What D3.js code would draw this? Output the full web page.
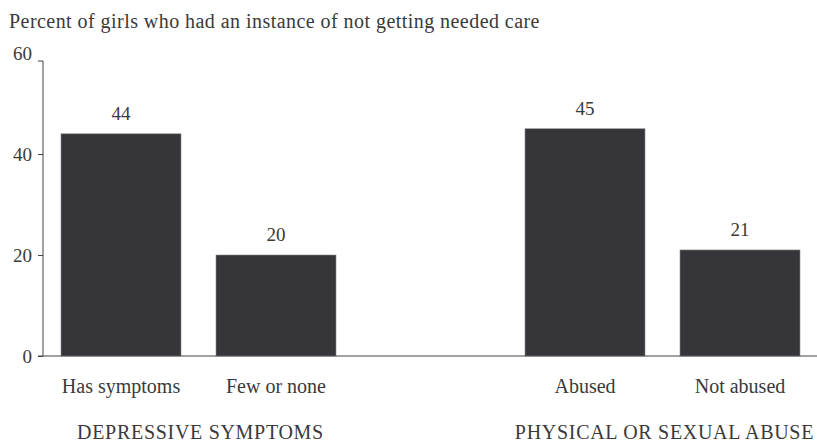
<!DOCTYPE html>
<html>
<head>
<meta charset="utf-8">
<script src="https://cdn.jsdelivr.net/npm/d3@7"></script>
<style>
  html, body { margin: 0; padding: 0; background: #fff; }
  svg { display: block; }
  svg text { font-family: "Liberation Serif", Tinos, "Times New Roman" !important; }
</style>
</head>
<body>
<svg id="chart" width="817" height="444"></svg>
<script>
const title = "Percent of girls who had an instance of not getting needed care";
const groups = ["DEPRESSIVE SYMPTOMS", "PHYSICAL OR SEXUAL ABUSE"];
const categories = [
  ["Has symptoms", "Few or none"],
  ["Abused", "Not abused"]
];
const values = [
  [44, 20],
  [45, 21]
];
const yTicks = [0, 20, 40, 60];

const FONT = '"Liberation Serif", Tinos, "Times New Roman"';
const TXT = "#3a3a3a";
const svg = d3.select("#chart");
const W = 817, H = 444;
const plot = { left: 43, right: 800, top: 53, bottom: 356 };

const y = d3.scaleLinear().domain([0, 60]).range([plot.bottom, plot.top]);
const xGroup = d3.scaleBand().domain(groups).range([61, plot.right]).paddingInner(0.4073).paddingOuter(0);
const xInner = d3.scaleBand().domain([0, 1]).range([0, xGroup.bandwidth()]).paddingInner(0.2258).paddingOuter(0);

function styleText(sel, size, ls) {
  return sel.attr("font-family", FONT)
    .style("font-family", FONT, "important")
    .attr("font-size", size).style("font-size", size + "px")
    .attr("fill", TXT)
    .attr("letter-spacing", ls || 0);
}

// title
styleText(svg.append("text").attr("x", 9).attr("y", 28), 20, 0.45).text(title);

// y axis
const axisTop = y(60) + 8; // the drawn axis line starts slightly below the "60" label
const yAxis = d3.axisLeft(y).tickValues(yTicks).tickSize(5).tickPadding(6).tickFormat(d3.format("d"));
const gy = svg.append("g").attr("transform", `translate(${plot.left},0)`).call(yAxis)
  .attr("font-family", FONT).attr("font-size", 19);
gy.select(".domain").attr("stroke", "#444").attr("d", `M-5,${axisTop}H0V${y(0)}`);
gy.selectAll(".tick line").attr("stroke", "#444").filter(d => d === 60).remove();
styleText(gy.selectAll(".tick text"), 19, 0).attr("dy", "0.35em");

// bars
const data = [];
groups.forEach((g, gi) => categories[gi].forEach((c, ci) => data.push({ g, gi, c, ci, v: values[gi][ci] })));

svg.append("g").selectAll("rect").data(data).join("rect")
  .attr("x", d => xGroup(d.g) + xInner(d.ci))
  .attr("width", xInner.bandwidth())
  .attr("y", d => y(d.v))
  .attr("height", d => y(0) - y(d.v))
  .attr("fill", "#363539")
  .attr("stroke", "#8a8a8c")
  .attr("stroke-width", 0.6);

// baseline
svg.append("line")
  .attr("x1", plot.left - 5).attr("x2", W)
  .attr("y1", y(0)).attr("y2", y(0))
  .attr("stroke", "#444").attr("stroke-width", 1.2);

// value labels
styleText(svg.append("g").selectAll("text").data(data).join("text")
  .attr("x", d => xGroup(d.g) + xInner(d.ci) + xInner.bandwidth() / 2)
  .attr("y", d => y(d.v) - 14)
  .attr("text-anchor", "middle"), 19, 0)
  .text(d => d.v);

// category labels
styleText(svg.append("g").selectAll("text").data(data).join("text")
  .attr("x", d => xGroup(d.g) + xInner(d.ci) + xInner.bandwidth() / 2)
  .attr("y", 393)
  .attr("text-anchor", "middle"), 20, 0)
  .text(d => d.c);

// group labels
styleText(svg.append("g").selectAll("text").data(groups).join("text")
  .attr("x", g => xGroup(g) + xGroup.bandwidth() / 2 + 2)
  .attr("y", 439)
  .attr("text-anchor", "middle"), 20, 0.7)
  .text(g => g);
</script>
</body>
</html>
